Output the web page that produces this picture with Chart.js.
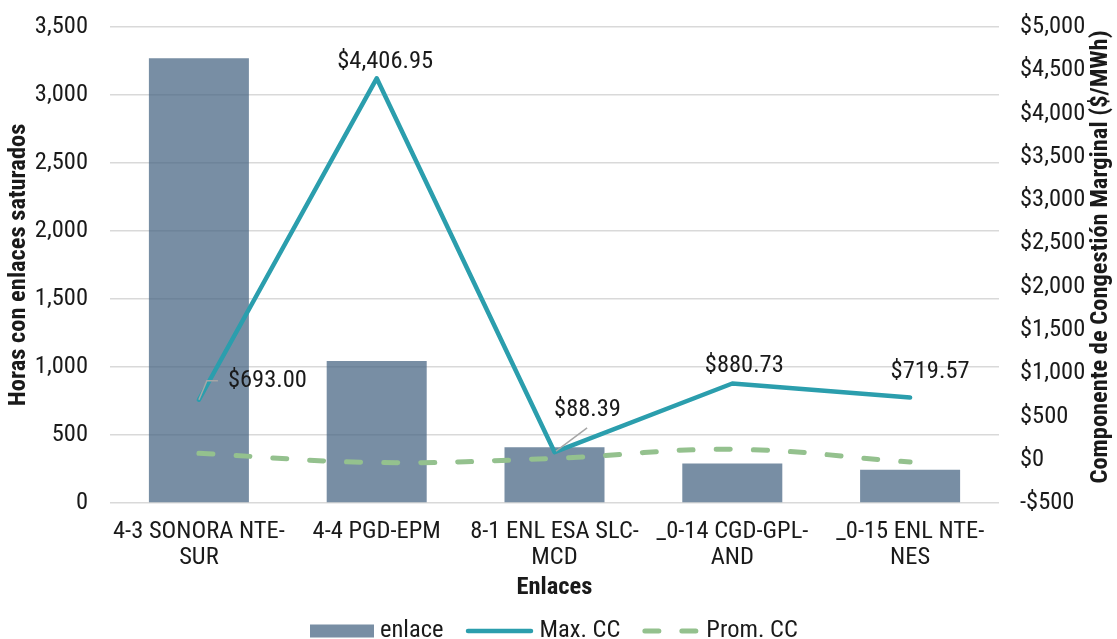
<!DOCTYPE html>
<html>
<head>
<meta charset="utf-8">
<title>Horas con enlaces saturados y Componente de Congestión Marginal</title>
<script src="https://cdn.jsdelivr.net/npm/chart.js@4.4.1/dist/chart.umd.min.js"></script>
<style>
  html, body { margin: 0; padding: 0; background: #ffffff; }
  #wrap { width: 1117px; height: 639px; }
</style>
</head>
<body>
<div id="wrap"><canvas id="chart" width="1117" height="639"></canvas></div>
<script>
// ---- Data ----
const categories = [
  ['4-3 SONORA NTE-', 'SUR'],
  ['4-4 PGD-EPM'],
  ['8-1 ENL ESA SLC-', 'MCD'],
  ['_0-14 CGD-GPL-', 'AND'],
  ['_0-15 ENL NTE-', 'NES']
];
const horasSaturadas = [3270, 1045, 410, 290, 245];
const maxCC = [693.00, 4406.95, 88.39, 880.73, 719.57];
const promCC = [74, -32, 16, 120, -27];
const leftTicks = [0, 500, 1000, 1500, 2000, 2500, 3000, 3500];
const rightTicks = [-500, 0, 500, 1000, 1500, 2000, 2500, 3000, 3500, 4000, 4500, 5000];

// ---- Styles ----
const FAMILY = "'Roboto Condensed', 'Liberation Sans Narrow', 'Arial Narrow', sans-serif";
const FONT_SIZE = 24.5;
const TEXT = '#1a1a1a';
const BAR_COLOR = 'rgba(68, 99, 129, 0.72)';
const MAX_COLOR = '#2b9ead';
const PROM_COLOR = '#94c18e';
const GRID = '#d9d9d9';
const LEADER = '#a6a6a6';
const NO_TICK = 'rgba(0,0,0,0)';

// where each Max. CC value label sits relative to its point
const maxLabelPlacement = [
  { dx: 29, dy: -19, align: 'left', leader: [[0, 0], [8, -19], [19, -19]] },
  { dx: 8.5, dy: -16, align: 'center' },
  { dx: 33, dy: -42, align: 'center', leader: [[1.5, -1], [32.6, -24.3]] },
  { dx: 12, dy: -18, align: 'center' },
  { dx: 20, dy: -26, align: 'center' }
];

const fmtInt = v => v.toLocaleString('en-US');
const fmtMoney = v => (v < 0 ? '-$' : '$') + Math.abs(v).toLocaleString('en-US');
const fmtMoney2 = v => '$' + v.toLocaleString('en-US', { minimumFractionDigits: 2, maximumFractionDigits: 2 });

// value labels for the Max. CC line, with leader lines where needed
const maxLabelsPlugin = {
  id: 'maxLabels',
  afterDatasetsDraw(chart) {
    const idx = chart.data.datasets.findIndex(d => d.id === 'max');
    const meta = chart.getDatasetMeta(idx);
    const ctx = chart.ctx;
    ctx.save();
    ctx.font = `${FONT_SIZE}px ${FAMILY}`;
    ctx.fillStyle = TEXT;
    ctx.textBaseline = 'middle';
    meta.data.forEach((pt, i) => {
      const p = maxLabelPlacement[i];
      if (p.leader) {
        ctx.beginPath();
        ctx.strokeStyle = LEADER;
        ctx.lineWidth = 1.5;
        p.leader.forEach(([lx, ly], k) => {
          if (k === 0) ctx.moveTo(pt.x + lx, pt.y + ly); else ctx.lineTo(pt.x + lx, pt.y + ly);
        });
        ctx.stroke();
      }
      ctx.textAlign = p.align;
      ctx.fillText(fmtMoney2(chart.data.datasets[idx].data[i]), pt.x + p.dx, pt.y + p.dy);
    });
    ctx.restore();
  }
};

// right axis title (reads bottom-to-top) and the legend row
const decorPlugin = {
  id: 'decor',
  afterDraw(chart) {
    const ctx = chart.ctx;
    const area = chart.chartArea;
    ctx.save();
    ctx.font = `bold ${FONT_SIZE}px ${FAMILY}`;
    ctx.fillStyle = TEXT;
    ctx.textAlign = 'center';
    ctx.textBaseline = 'middle';
    ctx.translate(1101, (area.top + area.bottom) / 2 - 8);
    ctx.rotate(-Math.PI / 2);
    ctx.fillText('Componente de Congestión Marginal ($/MWh)', 0, 0);
    ctx.restore();

    // legend
    const y = 631;
    const swatchW = [64, 68, 58];
    let x = 310;
    ctx.save();
    ctx.font = `${FONT_SIZE}px ${FAMILY}`;
    ctx.textBaseline = 'middle';
    ctx.textAlign = 'left';
    chart.data.datasets.forEach((ds, i) => {
      const w = swatchW[i];
      if (ds.type === 'bar') {
        ctx.fillStyle = ds.backgroundColor;
        ctx.fillRect(x, y - 6.5, w, 13);
      } else {
        ctx.beginPath();
        ctx.strokeStyle = ds.borderColor;
        ctx.lineWidth = ds.borderWidth;
        ctx.lineCap = 'round';
        ctx.setLineDash(ds.borderDash || []);
        ctx.moveTo(x + 2.5, y);
        ctx.lineTo(x + w - 2.5, y);
        ctx.stroke();
        ctx.setLineDash([]);
      }
      x += w + 6;
      ctx.fillStyle = TEXT;
      ctx.fillText(ds.label, x, y);
      x += ctx.measureText(ds.label).width + 22;
    });
    ctx.restore();
  }
};

const tickFont = { family: FAMILY, size: FONT_SIZE };
const titleFont = { family: FAMILY, size: FONT_SIZE, weight: 'bold' };

new Chart(document.getElementById('chart'), {
  data: {
    labels: categories,
    datasets: [
      {
        type: 'bar', id: 'bar', label: 'enlace', data: horasSaturadas, yAxisID: 'y',
        backgroundColor: BAR_COLOR, borderWidth: 0,
        barPercentage: 0.5625, categoryPercentage: 1, order: 3
      },
      {
        type: 'line', id: 'max', label: 'Max. CC', data: maxCC, yAxisID: 'y1',
        borderColor: MAX_COLOR, borderWidth: 4.5, pointRadius: 0, tension: 0,
        borderCapStyle: 'round', borderJoinStyle: 'round', order: 1
      },
      {
        type: 'line', id: 'prom', label: 'Prom. CC', data: promCC, yAxisID: 'y1',
        borderColor: PROM_COLOR, borderWidth: 5, borderDash: [14, 23], borderCapStyle: 'round',
        pointRadius: 0, tension: 0.4, order: 2
      }
    ]
  },
  options: {
    responsive: false,
    animation: false,
    devicePixelRatio: 1,
    layout: { padding: { top: 27, bottom: 36, left: 0, right: 0 } },
    plugins: { legend: { display: false }, tooltip: { enabled: false } },
    scales: {
      x: {
        offset: true,
        grid: { display: false, drawTicks: false },
        border: { display: false },
        ticks: { font: { ...tickFont, lineHeight: '26px' }, color: TEXT, padding: 16, maxRotation: 0, autoSkip: false },
        title: { display: true, text: 'Enlaces', font: titleFont, color: TEXT, padding: { top: 0, bottom: 0 } },
        afterFit(s) { s.height = 100; }
      },
      y: {
        position: 'left', min: 0, max: 3500,
        afterBuildTicks(s) { s.ticks = leftTicks.map(v => ({ value: v })); },
        grid: { color: GRID, lineWidth: 1.5, drawTicks: true, tickLength: 22, tickColor: NO_TICK },
        border: { display: false },
        ticks: { font: tickFont, color: TEXT, padding: 0, callback: v => fmtInt(v) },
        title: { display: true, text: 'Horas con enlaces saturados', font: titleFont, color: TEXT, padding: { top: 4, bottom: 0 } },
        afterFit(s) { s.width = 110; }
      },
      y1: {
        position: 'right', min: -500, max: 5000,
        afterBuildTicks(s) { s.ticks = rightTicks.map(v => ({ value: v })); },
        grid: { drawOnChartArea: false, drawTicks: true, tickLength: 21, tickColor: NO_TICK },
        border: { display: false },
        ticks: { font: tickFont, color: TEXT, padding: 0, callback: v => fmtMoney(v) },
        afterFit(s) { s.width = 118; }
      }
    }
  },
  plugins: [maxLabelsPlugin, decorPlugin]
});
</script>
</body>
</html>
